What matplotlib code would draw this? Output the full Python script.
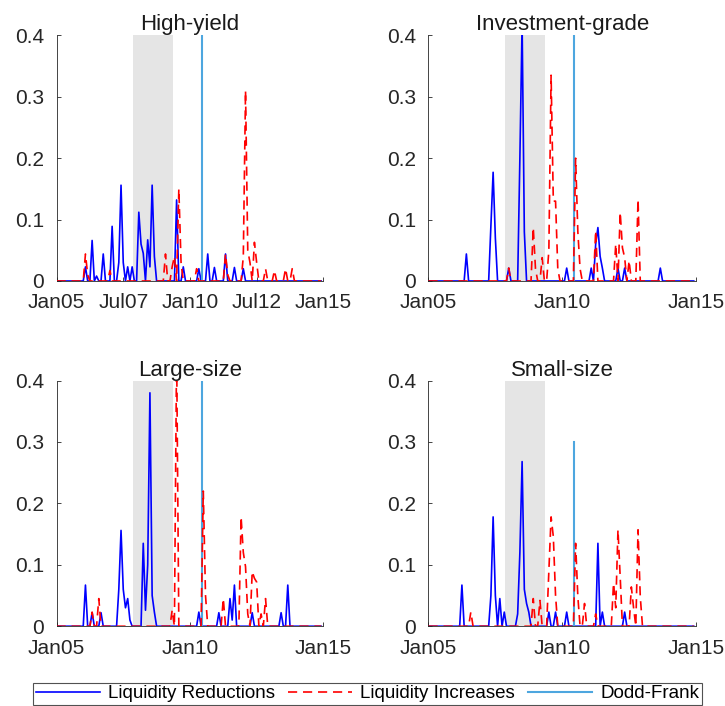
"""Liquidity events by bond segment, 2x2 panels + shared legend."""
import numpy as np
import matplotlib
matplotlib.use("Agg")
import matplotlib.pyplot as plt
from matplotlib.lines import Line2D

plt.rcParams["font.family"] = ["Liberation Sans", "DejaVu Sans"]

# x axis: months since Jan 2005 (0 .. 119)
N_MONTHS = 120
RECESSION = (34.5, 52.3)
DODD_FRANK = 65.5

# --- High-yield ---
hy_blue_m = [13, 16, 18, 21, 25, 28, 29, 30, 32, 34, 37, 38, 39, 41, 42, 43, 44,
             54, 57, 64, 68, 71, 76, 80, 84]
hy_blue_v = [0.023, 0.066, 0.008, 0.044, 0.089, 0.03, 0.156, 0.03, 0.023, 0.023,
             0.112, 0.06, 0.045, 0.067, 0.023, 0.156, 0.04,
             0.132, 0.023, 0.02, 0.044, 0.022, 0.044, 0.022, 0.02]
hy_red_m = [13, 14, 24, 49, 52, 53, 55, 56, 63, 76, 77, 84, 85, 86, 87, 89, 90,
            94, 98, 103, 106]
hy_red_v = [0.044, 0.01, 0.017, 0.044, 0.023, 0.04, 0.15, 0.03, 0.02, 0.044,
            0.01, 0.04, 0.31, 0.05, 0.03, 0.063, 0.03, 0.02, 0.017, 0.02, 0.02]

# --- Investment-grade ---
ig_blue_m = [17, 28, 29, 30, 36, 41, 42, 43, 62, 73, 75, 76, 77, 78, 85, 88, 104]
ig_blue_v = [0.044, 0.09, 0.177, 0.07, 0.021, 0.2, 0.42, 0.08, 0.021, 0.021,
             0.06, 0.087, 0.04, 0.021, 0.021, 0.021, 0.021]
ig_red_m = [36, 47, 48, 51, 54, 55, 56, 57, 58, 66, 67, 68, 75, 84, 86, 87, 88,
            90, 94]
ig_red_v = [0.021, 0.087, 0.02, 0.038, 0.05, 0.335, 0.13, 0.13, 0.02, 0.2, 0.08,
            0.02, 0.082, 0.06, 0.112, 0.054, 0.038, 0.033, 0.133]

# --- Large-size ---
ls_blue_m = [13, 16, 20, 28, 29, 30, 31, 32, 33, 39, 40, 41, 42, 43, 44,
             64, 73, 78, 79, 80, 88, 101, 104]
ls_blue_v = [0.067, 0.022, 0.022, 0.06, 0.156, 0.06, 0.03, 0.045, 0.01, 0.135,
             0.026, 0.1, 0.38, 0.05, 0.023,
             0.023, 0.022, 0.045, 0.01, 0.067, 0.022, 0.022, 0.067]
ls_red_m = [16, 19, 52, 54, 66, 67, 75, 83, 84, 85, 86, 88, 89, 90, 92, 94]
ls_red_v = [0.023, 0.045, 0.026, 0.45, 0.22, 0.05, 0.045, 0.178, 0.12, 0.097,
            0.02, 0.089, 0.078, 0.072, 0.02, 0.045]

# --- Small-size ---
ss_blue_m = [15, 28, 29, 30, 32, 34, 40, 41, 42, 43, 44, 45, 54, 57, 62, 76, 78, 88]
ss_blue_v = [0.067, 0.05, 0.178, 0.05, 0.045, 0.023, 0.02, 0.12, 0.268, 0.06,
             0.037, 0.023, 0.023, 0.023, 0.023, 0.135, 0.023, 0.023]
ss_red_m = [19, 47, 50, 54, 55, 56, 57, 66, 67, 70, 75, 83, 84, 85, 86, 91, 92,
            94, 95]
ss_red_v = [0.023, 0.045, 0.042, 0.09, 0.178, 0.146, 0.05, 0.135, 0.048, 0.037,
            0.02, 0.07, 0.03, 0.157, 0.08, 0.064, 0.03, 0.157, 0.048]

PANELS = [
    ("High-yield", hy_blue_m, hy_blue_v, hy_red_m, hy_red_v, 0.4,
     [0, 30, 60, 90, 120], ["Jan05", "Jul07", "Jan10", "Jul12", "Jan15"]),
    ("Investment-grade", ig_blue_m, ig_blue_v, ig_red_m, ig_red_v, 0.4,
     [0, 60, 120], ["Jan05", "Jan10", "Jan15"]),
    ("Large-size", ls_blue_m, ls_blue_v, ls_red_m, ls_red_v, 0.4,
     [0, 60, 120], ["Jan05", "Jan10", "Jan15"]),
    ("Small-size", ss_blue_m, ss_blue_v, ss_red_m, ss_red_v, 0.3,
     [0, 60, 120], ["Jan05", "Jan10", "Jan15"]),
]

# axes boxes in figure fraction (left, bottom, width, height)
BOXES = [
    (0.078, 0.602, 0.368, 0.348),
    (0.591, 0.602, 0.369, 0.348),
    (0.078, 0.113, 0.368, 0.348),
    (0.591, 0.113, 0.369, 0.348),
]

BLUE = "#0000FF"
RED = "#FF0000"
DF_COL = "#4DA6DF"
AX_COL = "#262626"
DASH = (0, (5.5, 3.5))


def series(months, values):
    y = np.zeros(N_MONTHS)
    y[months] = values
    return y


fig = plt.figure(figsize=(7.25, 7.06), dpi=100)
x = np.arange(N_MONTHS)

for box, (title, bm, bv, rm, rv, df_h, ticks, labels) in zip(BOXES, PANELS):
    ax = fig.add_axes(box)
    ax.axvspan(*RECESSION, color="#E5E5E5", lw=0, zorder=0)
    ax.plot(x, series(bm, bv), color=BLUE, lw=1.2, zorder=2)
    ax.plot([DODD_FRANK, DODD_FRANK], [0, df_h], color=DF_COL, lw=1.5, zorder=3)
    ax.plot(x, series(rm, rv), color=RED, lw=1.2, ls=DASH, zorder=4)
    ax.set_xlim(0, 120)
    ax.set_ylim(0, 0.4)
    ax.set_xticks(ticks)
    ax.set_xticklabels(labels)
    ax.set_yticks([0, 0.1, 0.2, 0.3, 0.4])
    ax.set_yticklabels(["0", "0.1", "0.2", "0.3", "0.4"])
    ax.tick_params(direction="in", length=3, width=0.6, colors=AX_COL,
                   labelsize=15, top=False, right=False)
    ax.tick_params(axis="x", pad=9)
    ax.tick_params(axis="y", pad=9)
    for s in ("top", "right"):
        ax.spines[s].set_visible(False)
    for s in ("left", "bottom"):
        ax.spines[s].set_color(AX_COL)
        ax.spines[s].set_linewidth(0.6)
    ax.set_title(title, fontsize=16, pad=3, color="#1a1a1a")

handles = [Line2D([], [], color=BLUE, lw=1.2),
           Line2D([], [], color=RED, lw=1.2, ls=DASH),
           Line2D([], [], color=DF_COL, lw=1.5)]
leg = fig.legend(handles, ["Liquidity Reductions", "Liquidity Increases", "Dodd-Frank"],
                 loc="lower center", bbox_to_anchor=(0.507, 0.001), ncol=3,
                 fontsize=13.5, frameon=True, fancybox=False, edgecolor=AX_COL,
                 handlelength=3.4, handletextpad=0.45, columnspacing=0.7,
                 borderpad=0.15, borderaxespad=0)
leg.get_frame().set_linewidth(0.8)

fig.savefig("out.png", dpi=100)
